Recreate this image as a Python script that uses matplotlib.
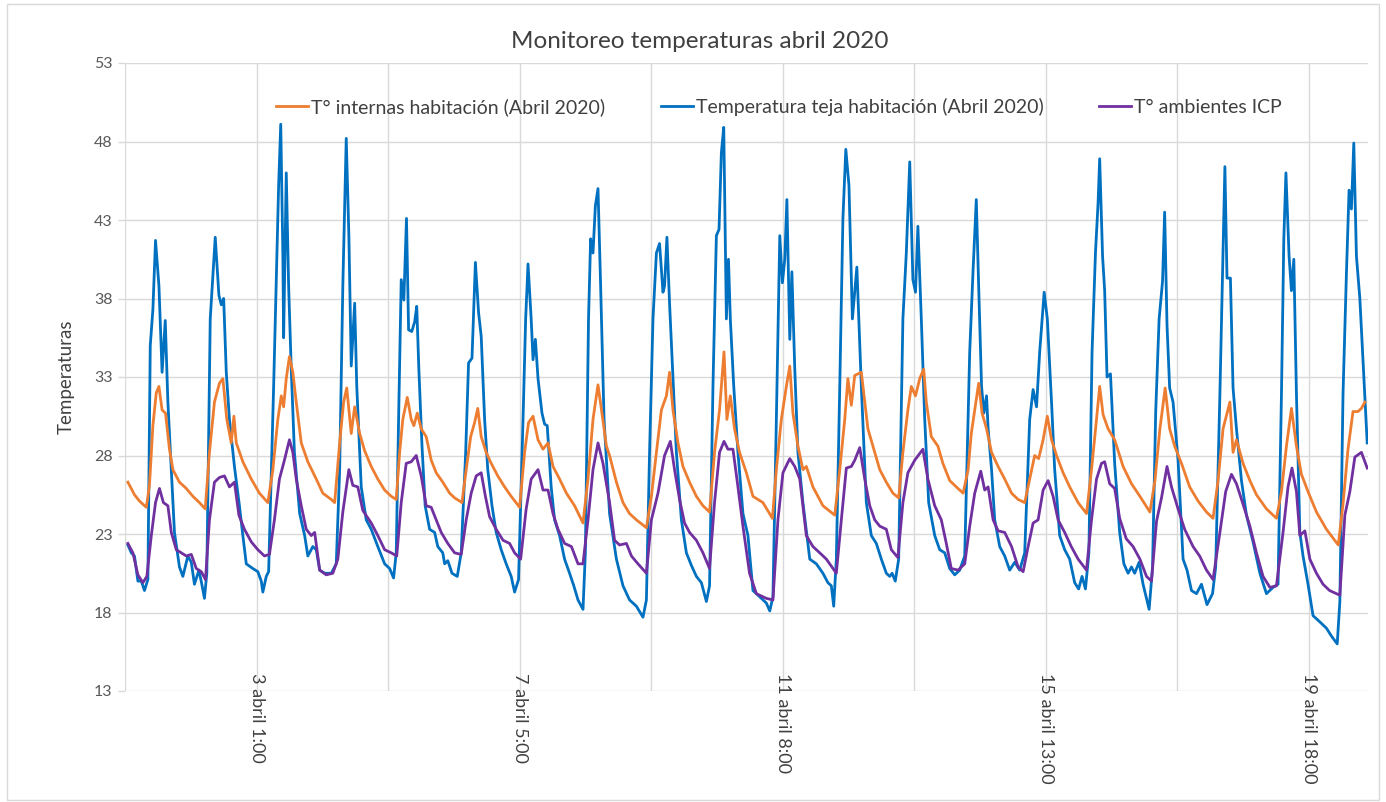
import matplotlib
matplotlib.use("Agg")
import matplotlib.pyplot as plt
from matplotlib.patches import Rectangle

# ---------------- data (hour index since start of record, temperature °C) ----------------
teja_h = [1.1,2.4,3.6,4.9,6.2,7.4,8.7,9.6,10.6,11.6,12.9,14.1,15.3,16.3,17.6,18.8,20.7,22.0,23.9,25.2,26.4,28.1,29.2,30.2,31.1,32.4,34.3,35.7,36.6,37.5,38.5,39.7,41.6,43.5,44.8,46.1,48.6,50.5,51.8,52.4,53.7,54.6,56.5,57.5,58.4,59.2,60.0,60.3,61.3,62.2,63.2,64.4,66.4,68.3,69.5,71.4,72.7,74.0,75.9,78.4,80.3,81.6,82.8,84.1,85.1,86.0,87.3,88.1,89.8,91.7,93.6,96.1,98.7,100.6,102.1,103.1,104.0,105.0,106.0,107.0,107.8,109.0,110.1,110.9,111.7,112.9,114.1,115.8,117.7,118.9,120.8,121.5,122.7,124.3,126.3,127.8,129.5,130.6,131.9,133.2,134.4,135.4,136.7,137.9,139.5,141.1,143.0,144.9,146.8,148.1,149.6,151.3,152.3,153.2,154.4,155.1,156.0,157.0,158.5,159.5,160.5,162.0,163.3,165.2,167.1,169.0,170.6,172.2,174.1,175.0,176.2,177.0,177.9,178.8,179.8,180.8,182.1,183.6,184.2,186.8,189.3,191.8,194.4,196.9,198.2,199.4,200.7,202.0,203.2,204.5,205.1,206.0,207.0,208.3,209.6,211.5,213.4,215.3,217.2,219.1,221.0,222.2,223.5,224.8,225.8,226.7,227.6,228.6,229.4,230.1,231.4,233.0,234.9,236.8,238.7,241.3,243.8,245.1,246.3,247.6,248.9,249.9,250.8,251.6,252.7,253.5,254.6,255.8,257.7,260.3,262.8,265.3,267.2,268.5,269.4,270.4,271.7,272.9,274.0,275.2,276.5,278.2,279.9,281.8,283.7,285.6,287.5,289.4,290.7,291.6,292.8,294.1,295.7,297.0,298.3,299.5,300.5,301.4,302.7,304.0,305.5,307.8,309.7,311.6,313.5,315.4,317.3,319.2,321.1,322.4,323.6,324.5,325.6,326.5,327.5,328.1,329.4,330.6,332.5,334.4,336.3,338.2,340.1,342.0,343.9,345.2,346.5,347.7,349.4,350.6,352.2,353.4,355.3,357.2,359.1,361.0,362.5,363.8,365.1,366.4,367.6,368.9,369.9,370.5,371.6,372.4,373.3,374.6,376.2,378.1,379.7,381.3,382.6,383.8,385.5,387.0,389.3,390.6,391.8,393.1,394.4,395.2,396.1,397.1,398.4,400.3,402.2,403.7,405.4,407.3,409.2,411.3,413.4,414.6,416.2,417.2,418.1,418.9,420.2,421.2,422.5,424.4,426.3,428.8,431.4,433.9,436.4,438.3,439.6,440.5,441.3,442.5,443.4,444.3,445.3,446.6,447.8,449.7,451.6,454.2,456.7,458.6,460.8,461.8,463.0,464.3,465.3,466.2,467.1,468.1,469.4,470.9,472.2]
teja_t = [22.3,21.8,21.6,20.0,20.0,19.4,20.1,35.0,37.3,41.7,38.8,33.3,36.6,31.4,27.1,23.1,20.9,20.3,21.6,21.2,19.8,20.7,19.8,18.9,20.5,36.7,41.9,38.2,37.6,38.0,33.3,30.3,27.3,24.8,22.9,21.1,20.8,20.6,20.0,19.3,20.3,20.6,32.4,39.2,45.2,49.1,40.9,35.5,46.0,38.8,33.5,28.2,24.3,22.9,21.6,22.2,22.0,20.7,20.5,20.5,21.1,27.1,38.8,48.2,42.0,33.7,37.7,32.4,26.0,23.9,23.3,22.2,21.1,20.8,20.2,21.8,30.3,39.2,37.9,43.1,36.0,35.9,36.5,37.5,33.5,28.6,24.8,23.3,23.1,22.2,21.8,21.1,21.3,20.5,20.3,21.8,28.2,33.9,34.2,40.3,37.1,35.6,30.3,27.1,24.8,23.1,22.0,21.1,20.3,19.3,20.1,30.3,36.7,40.2,36.7,34.1,35.4,32.9,30.7,30.0,29.9,26.0,23.9,22.9,21.4,20.5,19.7,18.8,18.2,21.8,36.7,41.8,40.9,43.9,45.0,38.8,30.3,26.0,24.3,21.4,19.7,18.8,18.4,17.7,18.8,28.2,36.7,40.9,41.5,38.4,38.8,41.9,37.7,32.9,28.2,23.9,21.8,21.0,20.3,19.9,18.7,19.7,32.4,42.0,42.4,47.3,48.9,36.7,40.5,36.7,32.4,28.2,24.3,22.9,19.4,19.0,18.6,18.1,19.0,30.3,42.0,39.0,40.5,44.3,35.4,39.7,33.5,28.2,25.0,21.4,21.1,20.5,19.9,19.7,18.4,21.4,32.4,43.1,47.5,45.2,36.7,40.0,32.4,25.0,22.9,22.4,21.4,20.5,20.3,20.5,20.0,21.4,36.7,40.9,46.7,39.2,38.4,42.6,36.7,30.3,25.0,22.9,22.0,21.8,20.8,20.4,20.7,21.6,34.6,39.9,44.3,38.8,32.4,30.7,31.8,29.7,27.1,23.9,22.2,21.6,20.7,21.2,20.7,21.8,30.3,32.2,31.1,34.6,38.4,36.7,31.4,27.1,22.9,22.0,21.4,19.9,19.5,20.3,19.5,21.8,34.6,40.9,44.1,46.9,40.7,38.5,33.0,33.2,27.5,23.1,21.1,20.5,20.9,20.5,21.2,19.8,18.2,20.9,30.8,36.7,39.1,43.5,36.3,32.3,31.4,27.7,21.4,20.7,19.4,19.2,19.8,18.5,19.2,20.9,31.9,39.6,46.4,39.3,39.3,32.3,29.7,26.4,24.2,22.5,20.5,19.2,19.6,19.8,31.9,41.8,46.0,40.7,38.5,40.5,31.9,23.1,21.6,19.8,17.8,17.4,17.0,16.5,16.0,18.7,31.9,39.6,44.9,43.7,47.9,40.7,38.0,33.0,28.8]

interna_h = [1.1,3.6,5.5,8.1,9.3,10.6,11.9,12.9,14.1,15.4,16.9,18.2,20.7,23.3,25.8,28.3,30.5,32.1,34.0,35.9,37.2,38.7,40.4,41.4,42.3,44.8,48.0,51.1,54.3,56.2,58.1,59.4,60.3,61.3,62.5,63.8,65.1,67.0,69.5,72.7,75.2,78.4,79.7,81.6,83.1,84.3,86.0,87.3,89.2,91.1,93.6,96.1,98.7,101.2,103.1,104.4,105.6,107.3,108.8,109.8,111.1,112.6,114.5,116.4,118.3,120.8,123.4,125.3,128.1,129.7,131.4,132.9,134.1,135.4,137.3,139.2,141.7,144.3,146.8,150.0,151.9,153.4,155.1,157.0,158.9,160.8,162.7,165.2,167.8,170.9,174.1,176.0,177.9,179.8,181.3,183.0,184.2,186.8,189.3,191.8,194.4,198.2,200.1,202.0,203.9,205.8,207.0,208.3,210.2,212.1,214.6,217.2,219.7,222.2,224.1,226.0,227.7,228.8,230.1,231.7,233.6,236.2,238.7,242.5,246.1,247.6,249.5,251.4,252.7,253.9,255.8,257.7,259.0,261.5,265.3,269.8,271.7,273.6,274.8,276.1,277.4,279.9,281.2,282.4,284.3,286.9,289.4,291.9,294.1,295.7,297.6,298.9,300.5,302.1,303.6,304.6,306.5,309.0,310.9,313.5,316.0,318.6,320.5,321.7,323.0,324.5,325.8,327.5,329.4,331.9,334.4,337.0,339.5,342.0,343.9,345.8,347.3,349.0,350.6,352.2,354.1,356.6,359.1,362.3,365.5,367.4,369.3,370.5,371.8,373.7,376.2,379.4,382.6,385.8,389.6,391.5,393.4,395.4,397.1,399.0,401.6,404.7,407.9,411.1,413.6,415.5,417.4,420.0,421.2,422.5,425.0,427.6,430.1,433.9,437.7,439.6,441.5,443.4,445.3,447.2,449.7,452.9,456.7,461.2,463.0,464.9,466.8,468.7,470.0,471.3]
interna_t = [26.3,25.5,25.1,24.7,26.1,29.9,32.0,32.4,30.9,30.7,28.4,27.1,26.3,25.9,25.4,25.0,24.6,28.2,31.4,32.6,32.9,30.3,28.8,30.5,28.8,27.6,26.5,25.6,25.0,27.1,30.3,31.8,31.1,32.9,34.3,33.3,31.4,28.8,27.6,26.5,25.6,25.2,25.0,28.8,31.4,32.3,29.4,31.1,29.4,28.3,27.3,26.5,25.8,25.4,25.2,28.2,30.3,31.7,30.3,29.9,30.7,29.7,29.2,27.7,26.9,26.3,25.6,25.3,25.0,27.1,29.2,30.1,31.0,29.2,28.2,27.5,26.7,26.0,25.4,24.7,28.2,30.1,30.5,29.0,28.4,28.8,27.3,26.5,25.6,24.8,23.7,26.5,30.3,32.5,30.7,28.6,28.0,26.3,25.0,24.3,23.9,23.4,25.4,28.2,30.9,31.8,33.3,30.9,28.8,27.3,26.3,25.4,24.8,24.4,28.2,30.9,34.6,30.3,31.8,29.7,28.2,26.9,25.4,25.0,24.0,27.1,30.3,32.4,33.7,30.7,28.6,27.1,27.3,26.0,24.8,24.2,27.1,30.3,32.9,31.2,33.1,33.3,31.4,29.7,28.6,27.1,26.3,25.6,25.3,28.2,30.9,32.4,31.8,32.9,33.5,31.4,29.2,28.6,27.5,26.4,26.0,25.6,27.1,29.4,30.9,32.6,30.7,29.7,28.2,27.3,26.5,25.6,25.2,25.0,26.5,28.0,27.8,29.0,30.5,29.0,28.0,26.9,26.0,25.0,24.3,27.1,30.3,32.4,30.6,29.7,29.0,27.3,26.2,25.4,24.4,26.4,29.7,32.3,29.7,28.6,27.5,26.0,25.1,24.4,24.0,26.4,29.7,31.4,28.2,29.0,27.5,26.4,25.5,24.6,24.0,25.7,28.6,31.0,28.6,26.8,25.7,24.4,23.3,22.3,24.9,28.4,30.8,30.8,31.0,31.4]

icp_h = [1.1,3.0,4.9,6.8,8.3,10.0,11.6,13.1,14.6,16.3,17.6,19.5,21.4,23.3,25.2,27.1,29.0,30.6,32.1,34.0,35.9,37.8,39.7,41.6,43.3,45.4,48.0,50.5,53.0,54.9,56.8,58.7,60.6,62.5,63.8,65.1,67.0,68.9,70.8,72.1,74.0,76.5,79.0,80.9,82.8,85.1,86.6,88.5,90.4,93.6,96.1,98.7,101.2,103.3,105.0,106.9,108.8,110.7,112.6,114.5,116.4,118.3,120.2,122.7,125.3,127.8,129.7,131.6,133.5,135.4,137.0,138.6,141.1,143.7,146.2,148.1,150.4,152.5,154.4,157.0,158.9,160.8,162.7,164.6,167.1,169.7,172.2,174.1,176.0,177.9,179.8,181.7,183.6,184.2,186.1,188.0,190.6,192.5,195.0,198.2,200.1,202.6,205.1,207.3,208.9,210.8,212.7,214.6,217.2,219.7,222.2,224.1,226.0,227.7,229.2,231.1,233.0,234.9,237.4,240.0,243.8,246.3,248.2,250.1,252.7,254.6,256.5,259.0,261.5,264.1,266.6,270.4,272.3,274.2,276.1,277.4,279.3,281.2,283.1,285.0,286.9,289.4,291.3,293.8,295.7,297.6,300.2,303.3,305.2,307.8,310.3,312.2,314.1,316.7,319.2,321.1,323.0,325.3,326.8,328.1,330.0,331.9,334.4,337.0,339.5,341.4,343.3,345.2,347.1,349.0,350.9,352.8,354.7,357.2,359.7,362.3,365.5,367.4,369.3,371.2,372.4,374.3,376.2,378.1,380.6,383.2,385.8,388.3,390.2,392.1,394.0,396.1,397.8,400.3,402.8,406.0,408.5,411.1,413.6,416.2,418.4,420.6,422.5,425.0,427.6,430.1,432.6,435.2,437.7,440.2,442.1,443.6,445.3,446.6,448.5,450.4,452.9,455.4,457.9,461.8,463.7,465.6,467.5,470.0,472.2]
icp_t = [22.4,21.8,20.4,19.9,20.3,22.9,25.0,25.9,25.0,24.8,23.1,22.0,21.8,21.6,21.7,20.8,20.6,20.1,23.9,26.3,26.6,26.7,26.0,26.3,24.2,23.3,22.5,22.0,21.6,21.7,23.9,26.5,27.7,29.0,28.2,26.5,24.8,23.3,22.9,23.1,20.7,20.4,20.5,21.4,24.4,27.1,26.1,26.0,24.5,23.7,22.9,22.0,21.8,21.6,25.0,27.5,27.6,28.0,26.7,24.8,24.7,23.9,23.1,22.4,21.8,21.7,23.9,25.6,26.7,26.9,25.4,24.1,23.3,22.6,22.4,21.8,21.4,24.6,26.5,27.1,25.8,25.8,24.3,23.3,22.4,22.2,21.1,21.1,23.9,27.1,28.8,27.5,25.6,25.0,22.6,22.3,22.4,21.6,21.1,20.5,23.9,25.6,28.0,28.9,27.1,25.2,23.7,23.1,22.6,21.8,20.8,25.0,28.2,28.9,28.4,28.4,26.0,23.5,20.5,19.2,18.9,18.8,23.9,26.9,27.8,27.3,26.5,22.9,22.2,21.8,21.4,20.5,23.9,27.2,27.3,27.7,28.5,26.5,24.8,23.9,23.5,23.3,22.0,21.5,25.0,26.9,27.7,28.4,26.5,24.8,23.9,22.4,20.8,20.7,21.1,23.5,25.6,27.0,25.8,26.0,23.9,23.2,23.1,22.2,20.9,20.6,22.2,23.7,23.9,25.8,26.4,25.4,23.9,23.1,22.2,21.4,20.7,23.9,26.5,27.5,27.6,26.2,25.9,24.0,22.7,22.2,21.4,20.3,20.0,23.8,25.3,27.3,26.0,24.6,23.3,22.2,21.6,20.7,20.1,23.1,25.7,26.8,26.2,24.9,23.5,21.8,20.3,19.6,19.7,23.1,26.0,27.2,25.7,22.9,23.2,21.4,20.5,19.8,19.4,19.1,24.2,25.7,27.9,28.2,27.2]

tick_pos = [50, 150, 250, 350, 450]
tick_labels = ["3 abril 1:00", "7 abril 5:00", "11 abril 8:00", "15 abril 13:00", "19 abril 18:00"]
grid_pos = [0, 50, 100, 150, 200, 250, 300, 350, 400, 450]
y_ticks = [13, 18, 23, 28, 33, 38, 43, 48, 53]

series_names = ["T° internas habitación (Abril 2020)",
                "Temperatura teja habitación (Abril 2020)",
                "T° ambientes ICP"]

# ---------------- figure ----------------
plt.rcParams['font.family'] = ['Lato', 'DejaVu Sans']
W, H = 1386, 802
fig = plt.figure(figsize=(W / 100, H / 100), dpi=100)
fig.patch.set_facecolor("white")

# chart border
fig.add_artist(Rectangle((7 / W, 2 / H), (W - 14) / W, (H - 6) / H, transform=fig.transFigure,
                         fill=False, edgecolor="#D9D9D9", linewidth=1.0))

left, right, top, bottom = 125, 1368, 63, 691
ax = fig.add_axes([left / W, 1 - bottom / H, (right - left) / W, (bottom - top) / H])

grid_c = "#D9D9D9"
c_orange = "#ED7D31"
c_blue = "#0070C0"
c_purple = "#7030A0"

for g in grid_pos:
    ax.axvline(g, color=grid_c, lw=1.0, zorder=0)
for yv in y_ticks:
    ax.axhline(yv, color=grid_c, lw=1.0, zorder=0)

l1, = ax.plot(interna_h, interna_t, color=c_orange, lw=2.0, solid_joinstyle="round", zorder=3)
l2, = ax.plot(teja_h, teja_t, color=c_blue, lw=2.0, solid_joinstyle="round", zorder=2)
l3, = ax.plot(icp_h, icp_t, color=c_purple, lw=2.0, solid_joinstyle="round", zorder=4)

ax.set_xlim(0, 472.5)
ax.set_ylim(13, 53)
for s in ax.spines.values():
    s.set_visible(False)

ax.set_yticks(y_ticks)
ax.set_yticklabels([str(v) for v in y_ticks])
ax.tick_params(axis="y", length=5, color=grid_c, width=1, labelsize=11.5, labelcolor="#595959", pad=4)

ax.set_xticks(tick_pos)
ax.set_xticklabels(tick_labels, rotation=-90)
ax.tick_params(axis="x", length=0, labelsize=13, labelcolor="#404040", pad=-13)

ax.set_ylabel("Temperaturas", fontsize=13.5, color="#404040")
ax.yaxis.set_label_coords(-(left - 75) / (right - left), 0.5)

fig.text(700 / W, 1 - 42 / H, "Monitoreo temperaturas abril 2020", ha="center", va="center",
         fontsize=17.5, color="#404040")

leg = ax.legend([l1, l2, l3], series_names, loc="center",
                bbox_to_anchor=((779 - left) / (right - left), 1 - (107 - top) / (bottom - top)),
                ncol=3, frameon=False, fontsize=14, handlelength=1.65, handletextpad=0.15,
                columnspacing=2.85, labelcolor="#404040")

fig.savefig("out.png", dpi=100, facecolor="white")
